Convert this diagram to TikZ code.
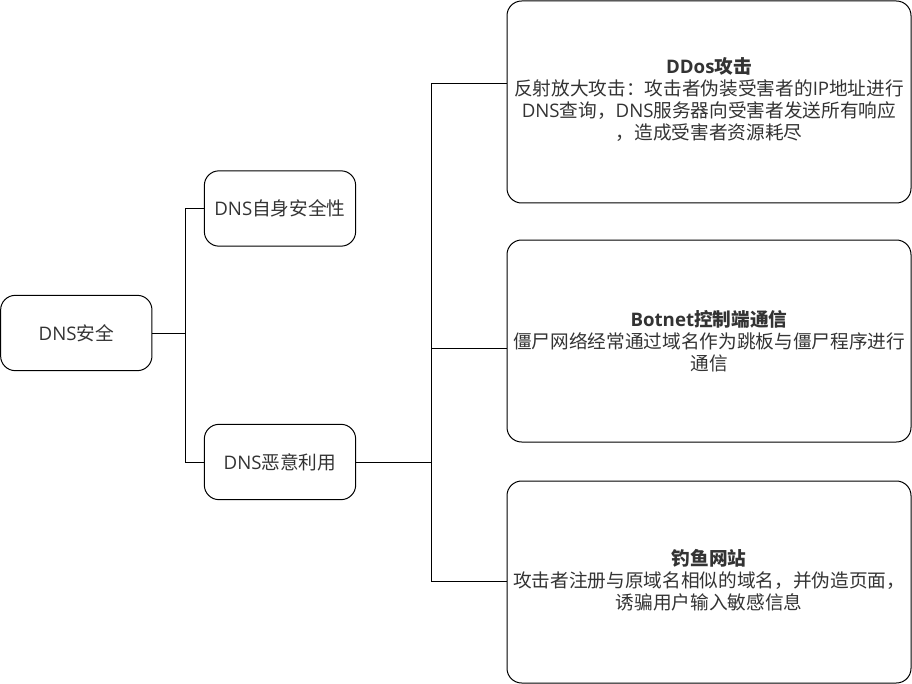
\documentclass[tikz,border=0pt]{standalone}
\usepackage{fontspec}
\setmainfont{Noto Sans CJK SC}
\newfontfamily\lat{Open Sans}
\begin{document}
\begin{tikzpicture}[x=0.75pt,y=-0.75pt,
  box/.style={draw=black,line width=0.75pt,rounded corners=11pt,inner sep=0pt,
    text=txt,align=center,font=\fontsize{14}{16.5}\selectfont},
  smallbox/.style={box,minimum width=113.5pt,minimum height=56.5pt},
  bigbox/.style={box,minimum width=303pt,minimum height=151.5pt},
  link/.style={draw=black,line width=0.75pt}]
\definecolor{txt}{HTML}{333333}
\useasboundingbox (0,0) rectangle (912,684);
\node[smallbox] (root) at (76.3,333) {{\lat DNS}安全};
\node[smallbox] (n1) at (280,208.5) {{\lat DNS}自身安全性};
\node[smallbox] (n2) at (280,462) {{\lat DNS}恶意利用};
\node[bigbox] (b1) at (709,102) {};
\node[bigbox] (b2) at (709,341) {};
\node[bigbox] (b3) at (709,582) {};
\node[text=txt,align=center,font=\fontsize{14}{16.5}\selectfont] (t1) at (709,99)
  {\textbf{{\lat\bfseries DDos}攻击}\\反射放大攻击：攻击者伪装受害者的{\lat IP}地址进行\\{\lat DNS}查询，{\lat DNS}服务器向受害者发送所有响应\\，造成受害者资源耗尽};
\node[text=txt,align=center,font=\fontsize{14}{16.5}\selectfont] (t2) at (709,341)
  {\textbf{{\lat\bfseries Botnet}控制端通信}\\僵尸网络经常通过域名作为跳板与僵尸程序进行\\通信};
\node[text=txt,align=center,font=\fontsize{14}{16.5}\selectfont] (t3) at (709,580)
  {\textbf{钓鱼网站}\\攻击者注册与原域名相似的域名，并伪造页面，\\诱骗用户输入敏感信息};
\coordinate (j1) at (185,333);
\coordinate (j2) at (431,462);
\coordinate (p1) at (b1.west |- 0,84);
\coordinate (p2) at (b2.west |- 0,348);
\coordinate (p3) at (b3.west |- 0,581);
\draw[link] (root.east) -- (j1) |- (n1.west);
\draw[link] (j1) |- (n2.west);
\draw[link] (n2.east) -- (j2);
\draw[link] (j2) |- (p1);
\draw[link] (j2) |- (p2);
\draw[link] (j2) |- (p3);
\end{tikzpicture}
\end{document}
